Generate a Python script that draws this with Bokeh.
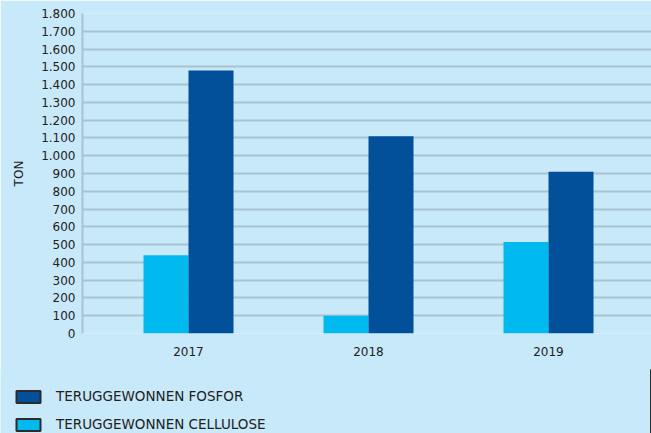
from bokeh.plotting import figure
from bokeh.models import Range1d, FixedTicker, Legend, LegendItem, ColumnDataSource
from bokeh.layouts import column
from bokeh.transform import dodge
from bokeh.embed import file_html
from bokeh.resources import INLINE

years = [2017, 2018, 2019]
fosfor = [1480, 1110, 910]
cellulose = [440, 100, 515]
y_ticks = [0, 100, 200, 300, 400, 500, 600, 700, 800, 900, 1000, 1100, 1200, 1300, 1400, 1500, 1600, 1700, 1800]
y_tick_labels = ["0", "100", "200", "300", "400", "500", "600", "700", "800", "900", "1.000", "1.100",
                 "1.200", "1.300", "1.400", "1.500", "1.600", "1.700", "1.800"]
x_tick_labels = ["2017", "2018", "2019"]
series_names = ["TERUGGEWONNEN FOSFOR", "TERUGGEWONNEN CELLULOSE"]
axis_title = "TON"

BG = "#c7e9f9"
DARK = "#024f9a"
LIGHT = "#00b9ef"
GRID = "#a9c3d3"
TXT = "#222222"
FONT = "DejaVu Sans"

src = ColumnDataSource(dict(year=years, fosfor=fosfor, cellulose=cellulose))

p = figure(width=651, height=370, output_backend="svg", toolbar_location=None,
           x_range=Range1d(2017 - 106 / 180, 2019 + 103 / 180), y_range=Range1d(0, 1800),
           min_border_left=82, min_border_right=0, min_border_top=13, min_border_bottom=37,
           frame_align=False)
p.background_fill_color = BG
p.border_fill_color = BG
p.outline_line_color = None

p.vbar(x=dodge("year", -0.125), top="cellulose", width=0.25, source=src,
       fill_color=LIGHT, line_color=None)
p.vbar(x=dodge("year", 0.125), top="fosfor", width=0.25, source=src,
       fill_color=DARK, line_color=None)

# grid
p.xgrid.grid_line_color = None
p.ygrid.grid_line_color = GRID
p.ygrid.grid_line_width = 2
p.ygrid.ticker = FixedTicker(ticks=y_ticks)

# y axis
p.yaxis.ticker = FixedTicker(ticks=y_ticks)
p.yaxis.major_label_overrides = {t: l for t, l in zip(y_ticks, y_tick_labels)}
p.yaxis.axis_line_color = GRID
p.yaxis.axis_line_width = 2
p.yaxis.major_tick_line_color = None
p.yaxis.minor_tick_line_color = None
p.yaxis.major_tick_out = 0
p.yaxis.major_label_standoff = 7
p.yaxis.major_label_text_font = FONT
p.yaxis.major_label_text_font_size = "12px"
p.yaxis.major_label_text_color = TXT
p.yaxis.axis_label = axis_title
p.yaxis.axis_label_text_font = FONT
p.yaxis.axis_label_text_font_size = "12px"
p.yaxis.axis_label_text_font_style = "normal"
p.yaxis.axis_label_text_color = TXT
p.yaxis.axis_label_standoff = 12

# x axis
p.xaxis.ticker = FixedTicker(ticks=years)
p.xaxis.major_label_overrides = {y: l for y, l in zip(years, x_tick_labels)}
p.xaxis.axis_line_color = None
p.xaxis.major_tick_line_color = None
p.xaxis.minor_tick_line_color = None
p.xaxis.major_tick_out = 0
p.xaxis.major_label_standoff = 13
p.xaxis.major_label_text_font = FONT
p.xaxis.major_label_text_font_size = "12px"
p.xaxis.major_label_text_color = TXT

# legend strip below the chart (its glyph renderers sit outside the visible range)
lg = figure(width=651, height=64, output_backend="svg", toolbar_location=None,
            x_range=Range1d(0, 1), y_range=Range1d(0, 1),
            min_border_left=0, min_border_right=0, min_border_top=0, min_border_bottom=0,
            frame_align=False, margin=(-1, 0, 0, 0))
lg.axis.visible = False
lg.grid.visible = False
lg.background_fill_color = BG
lg.border_fill_color = BG
lg.outline_line_color = None
lf = lg.vbar(x="year", top="fosfor", width=0.25, source=src, fill_color=DARK,
             line_color="#2b2b2b", line_width=2)
lc = lg.vbar(x="year", top="cellulose", width=0.25, source=src, fill_color=LIGHT,
             line_color="#2b2b2b", line_width=2)
legend = Legend(items=[LegendItem(label=series_names[0], renderers=[lf]),
                       LegendItem(label=series_names[1], renderers=[lc])],
                location=(13, 1), orientation="vertical",
                glyph_width=30, glyph_height=15, label_height=15, spacing=12,
                label_standoff=13, padding=0, margin=0,
                border_line_color=None, background_fill_alpha=0,
                label_text_font=FONT, label_text_font_size="13.5px", label_text_color=TXT)
lg.add_layout(legend)

layout = column(p, lg, spacing=0)
open("out.html", "w").write(file_html(layout, INLINE))
